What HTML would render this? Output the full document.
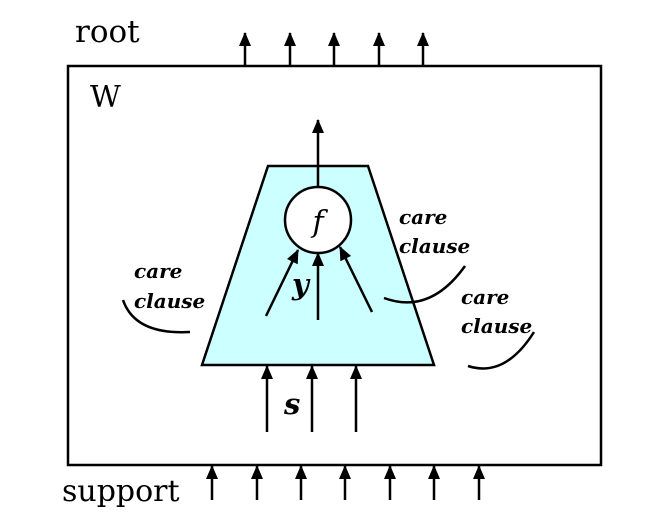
<!DOCTYPE html>
<html><head><style>body{margin:0;background:#fff}</style></head><body>
<svg width="653" height="518" xmlns="http://www.w3.org/2000/svg" font-family="DejaVu Serif, serif">
<defs>
<marker id="b" viewBox="0 0 14 12" markerWidth="14" markerHeight="12" refX="13" refY="6" orient="auto" markerUnits="userSpaceOnUse"><path d="M0,0 L14,6 L0,12 Z" fill="#000"/></marker></defs>
<rect x="68" y="66" width="533" height="399" fill="#fff" stroke="#000" stroke-width="2.5"/>
<polygon points="268,166 368,166 434,365 202,365" fill="#ccffff" stroke="#000" stroke-width="2.5"/>
<circle cx="318" cy="220" r="33" fill="#fff" stroke="#000" stroke-width="2.5"/>
<text x="318" y="232" font-size="30" font-style="italic" text-anchor="middle">f</text>
<g stroke="#000" stroke-width="2.5" fill="none" marker-end="url(#b)">
<line x1="318" y1="187" x2="318" y2="120"/>
<line x1="266" y1="316" x2="298" y2="250"/>
<line x1="318" y1="320" x2="318" y2="253"/>
<line x1="372" y1="312" x2="340" y2="247"/>
<line x1="267" y1="432" x2="267" y2="366"/>
<line x1="312" y1="432" x2="312" y2="366"/>
<line x1="356" y1="432" x2="356" y2="366"/>
<line x1="245" y1="66" x2="245" y2="33"/>
<line x1="290" y1="66" x2="290" y2="33"/>
<line x1="334" y1="66" x2="334" y2="33"/>
<line x1="379" y1="66" x2="379" y2="33"/>
<line x1="423" y1="66" x2="423" y2="33"/>
<line x1="212" y1="500" x2="212" y2="466"/>
<line x1="257" y1="500" x2="257" y2="466"/>
<line x1="301" y1="500" x2="301" y2="466"/>
<line x1="345" y1="500" x2="345" y2="466"/>
<line x1="390" y1="500" x2="390" y2="466"/>
<line x1="434" y1="500" x2="434" y2="466"/>
<line x1="479" y1="500" x2="479" y2="466"/>
</g>
<g stroke="#000" stroke-width="2.5" fill="none">
<path d="M123,300 Q135,335 190,332"/>
<path d="M465,266 Q430,315 384,298"/>
<path d="M534,332 Q505,378 468,366"/>
</g>
<text x="75" y="42" font-size="31">root</text>
<text x="90" y="107" font-size="30">W</text>
<text x="62" y="501" font-size="30">support</text>
<g font-size="20" font-style="italic" font-weight="bold">
<text x="134" y="278">care</text><text x="134" y="308">clause</text>
<text x="399" y="224">care</text><text x="399" y="253">clause</text>
<text x="461" y="304">care</text><text x="461" y="333">clause</text>
</g>
<text x="292" y="294" font-size="29" font-style="italic" font-weight="bold">y</text>
<text x="284" y="414" font-size="29" font-style="italic" font-weight="bold">s</text>
</svg>
</body></html>
